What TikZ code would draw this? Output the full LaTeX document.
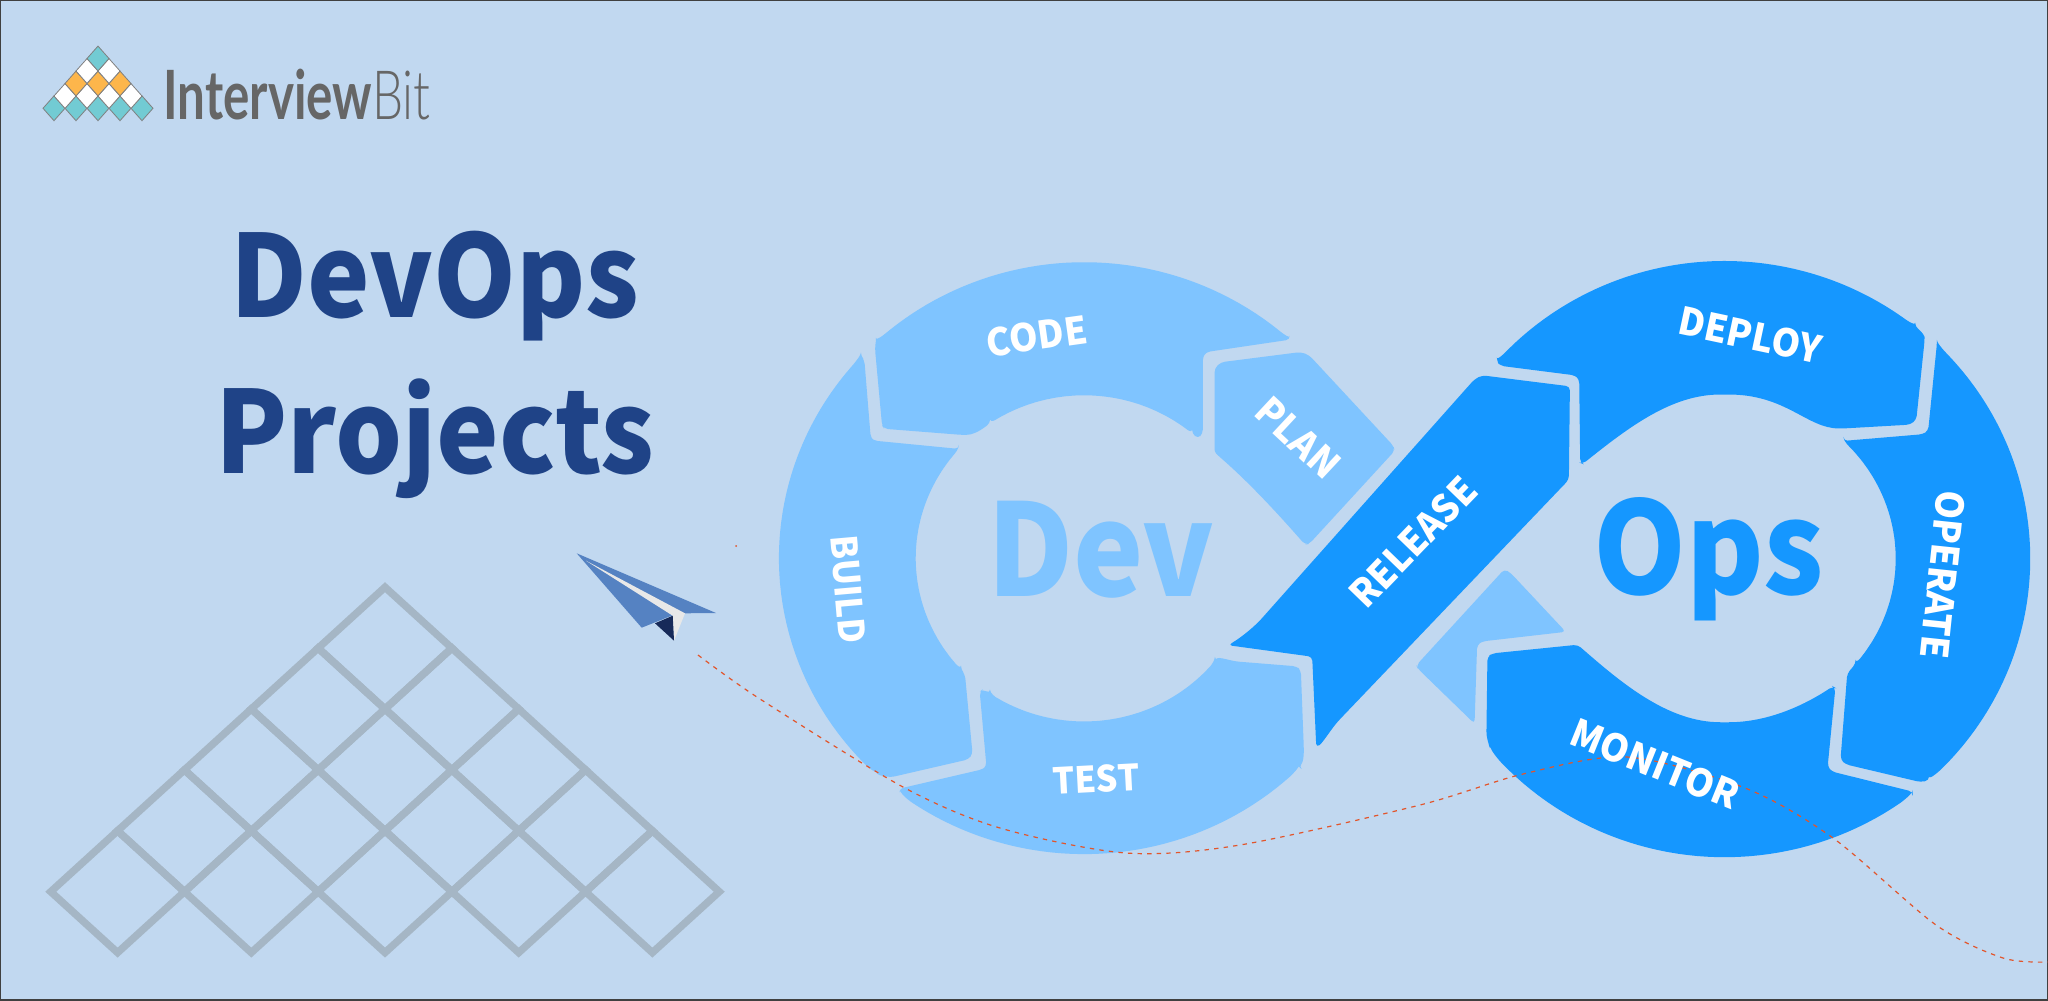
\documentclass[tikz,border=0pt]{standalone}
\usepackage{fontspec}
\setmainfont[FakeStretch=0.925]{Noto Sans CJK SC}
\newfontfamily\lblfont[FakeStretch=0.96]{Noto Sans CJK SC}
\newfontfamily\logofont[FakeStretch=0.725]{Lato}
\newfontfamily\logolight[FakeStretch=0.725]{Lato Light}
\definecolor{bgblue}{HTML}{C1D8F0}
\definecolor{lightseg}{HTML}{7FC4FF}
\definecolor{darkseg}{HTML}{1597FF}
\definecolor{titleblue}{HTML}{1F4387}
\definecolor{gridgrey}{HTML}{A5B6C5}
\definecolor{planeblue}{HTML}{5582C2}
\definecolor{planedark}{HTML}{172A59}
\definecolor{planewhite}{HTML}{E8E8E8}
\definecolor{logoteal}{HTML}{72CBD3}
\definecolor{logoorange}{HTML}{FDB64B}
\definecolor{logogrey}{HTML}{666666}
\definecolor{dashred}{HTML}{E2552B}
\newcommand{\devarc}[3]{plot[smooth,domain=#2:#3,samples=24] ({770+#1*cos(\x)},{755+#1*sin(\x)})}
\newcommand{\opsarc}[4]{plot[smooth,domain=#3:#4,samples=24] ({940+#1*cos(\x)},{645+#2*sin(\x)})}
\newcommand{\devto}[3]{-- plot[smooth,domain=#2:#3,samples=24] ({770+#1*cos(\x)},{755+#1*sin(\x)})}
\newcommand{\opsto}[4]{-- plot[smooth,domain=#3:#4,samples=24] ({940+#1*cos(\x)},{645+#2*sin(\x)})}
\tikzset{
  seglight/.style={fill=lightseg,rounded corners=2pt},
  segdark/.style={fill=darkseg,rounded corners=2pt},
  lbl/.style={text=white,inner sep=0pt,font=\lblfont\bfseries\fontsize{19}{19}\selectfont},
  bigword/.style={inner sep=0pt,anchor=base,font=\bfseries\fontsize{64}{64}\selectfont},
  titleword/.style={inner sep=0pt,anchor=base,text=titleblue,font=\bfseries\fontsize{57}{57}\selectfont},
  zdev/.style={shift={(760,250)},xscale=0.42088,yscale=0.40816},
  zops/.style={shift={(1240,250)},xscale=0.51546,yscale=0.47847},
  trail/.style={draw=dashred,line width=0.6pt,dash pattern=on 2.2pt off 2.6pt}
}
\begin{document}
\begin{tikzpicture}[x=0.5pt,y=-0.5pt]
\useasboundingbox (0,0) rectangle (2048,1000);
\fill[bgblue] (0,0) rectangle (2048,1000);
\draw[black!75,line width=1pt] (0,0) rectangle (2048,1000);

% lattice
\foreach \r in {0,...,4}{
  \pgfmathtruncatemacro{\n}{4-\r}
  \foreach \c in {0,...,\n}{
    \pgfmathsetmacro{\cx}{385+(\c-\n/2)*133.7}
    \pgfmathsetmacro{\cy}{891.7-\r*60.9}
    \draw[gridgrey,line width=3.7pt,miter limit=4]
      (\cx-66.85,\cy) -- (\cx,\cy-60.9) -- (\cx+66.85,\cy) -- (\cx,\cy+60.9) -- cycle;
  }
}

% logo
\foreach \xx/\yy/\cc in {54/108.3/logoteal,76/108.3/logoteal,98/108.3/logoteal,120/108.3/logoteal,142/108.3/logoteal,
  65/96/white,87/96/white,109/96/white,131/96/white,
  76/83.5/logoorange,98/83.5/logoorange,120/83.5/logoorange,
  87/71/white,109/71/white,
  98/58.5/logoteal}{
  \draw[fill=\cc,draw=black!50,line width=0.4pt] (\xx-11,\yy) -- (\xx,\yy-12.4) -- (\xx+11,\yy) -- (\xx,\yy+12.4) -- cycle;
}
\node[inner sep=0pt,anchor=base west,text=logogrey] (logotext) at (163,120)
  {\fontsize{34}{34}\selectfont\logofont\textbf{Interview}\logolight Bit};

% title
\node[titleword] (titleA) at (435,317) {DevOps};
\node[titleword] (titleB) at (435,473) {Projects};

% plane
\fill[planeblue] (576.7,553.3) -- (716,613) -- (685,613.3) -- (673.3,615) -- (641.7,627.7) -- cycle;
\fill[planewhite] (586,560.7) -- (685,613.3) -- (674,640.7) -- (672.7,615.7) -- cycle;
\fill[planedark] (655,623.3) -- (672.7,615.7) -- (674,640.7) -- cycle;

% Dev ring
\begin{scope}[zdev]
\fill[seglight] \devarc{725}{-133}{-47.6}
  -- (1060,250) -- (1052,262) -- (1052,450) -- (1040,462)
  \devto{399}{-50}{-124} .. controls (520,445) and (505,453) .. (480,453)
  -- (295,438) -- (290,430) -- (273,240) -- cycle;
\fill[seglight] (1095,275) -- (1285,250) -- (1305,258) -- (1505,480) -- (1508,492) -- (1305,720) -- (1295,722)
  .. controls (1200,610) and (1140,550) .. (1090,505) .. controls (1082,497) and (1080,490) .. (1080,480)
  -- (1080,290) -- cycle;
\fill[seglight] \devarc{725}{223}{133} -- (310,1292)
  -- (495,1248) -- (505,1235) -- (487,1040)
  \devto{400}{137}{222}
  -- (270,467) -- (263,460) -- (248,270) -- cycle;
\fill[seglight] (330,1320) -- (530,1272) -- (538,1265) -- (522,1082) -- (530,1076)
  \devto{400}{124}{39} .. controls (1090,998) and (1105,1002) .. (1130,1008)
  -- (1275,1020) -- (1285,1030) -- (1292,1220)
  .. controls (1292,1240) and (1290,1255) .. (1280,1265)
  \devto{725}{45}{127} -- cycle;
\end{scope}

% Ops ring
\begin{scope}[zops]
\fill[segdark] (470,262) -- (640,285) -- (638,480) -- (190,985)
  .. controls (175,1005) and (160,1030) .. (148,1040)
  -- (140,850) -- (-23,826)
  .. controls (5,808) and (30,785) .. (48,763)
  -- (455,270) -- cycle;
\fill[segdark] \opsarc{590}{622}{-138.5}{-51.2} .. controls (1322,170) and (1328,180) .. (1328,190)
  -- (1312,355) -- (1300,365) -- (1170,373)
  .. controls (1100,373) and (1060,302) .. (940,302)
  .. controls (840,302) and (760,365) .. (665,447)
  -- (660,445) -- (658,270) -- (650,262) -- (505,242) -- cycle;
\fill[segdark] \opsarc{593}{624}{-46}{48} -- (1320,1112)
  -- (1175,1075) -- (1165,1065) -- (1178,885)
  \opsto{332}{342}{40}{-46}
  -- (1325,385) -- (1335,378) -- cycle;
\fill[segdark] (480,850) -- (490,843) -- (655,825)
  .. controls (740,905) and (830,987) .. (940,987)
  .. controls (1020,987) and (1090,955) .. (1150,912)
  -- (1155,915) -- (1140,1080) -- (1148,1090) -- (1305,1132)
  \opsto{593}{624}{52}{140} -- (478,1015) -- cycle;
\fill[seglight] (513,667) -- (525,675) -- (632,798) -- (470,818) -- (460,825) -- (455,990)
  -- (345,875) -- (342,868) -- cycle;
\end{scope}

% trail
\fill[dashred] (736,546) circle (1);
\draw[trail] plot[smooth] coordinates {(698,655)(760,699)(903,787)(1000,828)(1126,853)(1240,845)(1420,805)(1523,774)(1627,757)(1745,788)(1833,838)(1936,925)(2003,958)(2048,962)};

% labels
\node[lbl,rotate=8] (code) at (1037,336) {CODE};
\node[lbl,rotate=-43] (plan) at (1298,438) {PLAN};
\node[lbl,rotate=-85,font=\lblfont\bfseries\fontsize{18}{18}\selectfont] (build) at (848,589) {BUILD};
\node[lbl,rotate=3,font=\lblfont\bfseries\fontsize{18}{18}\selectfont] (test) at (1096,779) {TEST};
\node[lbl,rotate=46] (release) at (1413,542) {RELEASE};
\node[lbl,rotate=-12] (deploy) at (1750,335) {DEPLOY};
\node[lbl,rotate=-96] (operate) at (1943,575) {OPERATE};
\node[lbl,rotate=-22] (monitor) at (1655,764) {MONITOR};
\node[bigword,text=lightseg] (dev) at (1101,596) {Dev};
\node[bigword,text=darkseg] (ops) at (1709,594) {Ops};
\end{tikzpicture}
\end{document}
